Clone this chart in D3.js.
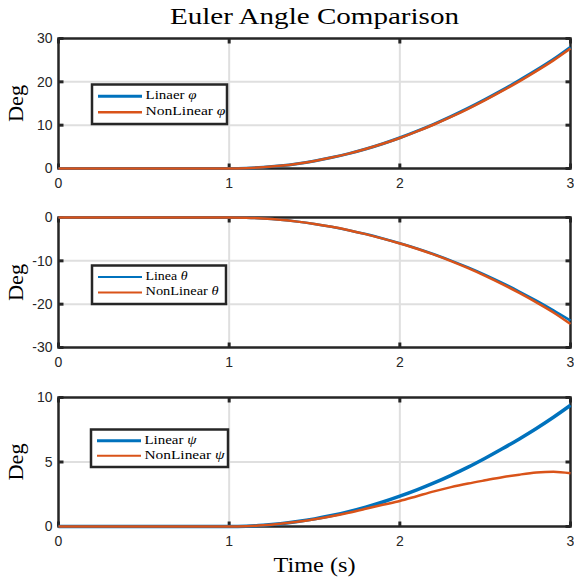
<!DOCTYPE html>
<html lang="en">
	<head>
		<meta charset="utf-8">
		<title>Euler Angle Comparison</title>
		<script src="https://d3js.org/d3.v7.min.js"></script>
		<style type="text/css">
            body {
                margin: 0;
                background: white;
            }
            .tick-label {
                font-family: "Liberation Sans", Arial, sans-serif;
                font-size: 14px;
                fill: #262626;
            }
            .serif {
                font-family: "Liberation Serif", "Times New Roman", serif;
                fill: #000;
            }
		</style>
	</head>
	<body>
        <div id="chart"></div>

        <script type="text/javascript">
            const width = 574;
            const height = 578;

            // time samples (s)
            const time = [0, 0.5, 1.0, 1.1, 1.2, 1.3, 1.4, 1.5, 1.6, 1.7, 1.8, 1.9, 2.0,
                          2.1, 2.2, 2.3, 2.4, 2.5, 2.6, 2.7, 2.8, 2.9, 3.0];

            // roll
            const phiLinear    = [0, 0, 0, 0.07, 0.28, 0.63, 1.12, 1.75, 2.52, 3.43, 4.5, 5.72, 7.1,
                                  8.62, 10.25, 12.02, 13.92, 15.95, 18.08, 20.35, 22.7, 25.2, 28.0];
            const phiNonLinear = [0, 0, 0, 0.07, 0.28, 0.63, 1.12, 1.75, 2.52, 3.43, 4.5, 5.7, 7.05,
                                  8.55, 10.15, 11.9, 13.78, 15.78, 17.9, 20.12, 22.47, 24.95, 27.7];

            // pitch
            const thetaLinear    = [0, 0, 0, -0.05, -0.22, -0.52, -0.95, -1.5, -2.15, -2.92, -3.82, -4.85, -5.95,
                                    -7.15, -8.48, -9.94, -11.53, -13.25, -15.1, -17.08, -19.19, -21.43, -23.8];
            const thetaNonLinear = [0, 0, 0, -0.05, -0.22, -0.52, -0.95, -1.5, -2.15, -2.93, -3.84, -4.88, -6.0,
                                    -7.2, -8.56, -10.05, -11.68, -13.45, -15.36, -17.41, -19.6, -21.93, -24.6];

            // yaw
            const psiLinear    = [0, 0, 0, 0.02, 0.09, 0.21, 0.38, 0.59, 0.85, 1.15, 1.5, 1.9, 2.35,
                                  2.84, 3.38, 3.97, 4.6, 5.29, 6.02, 6.79, 7.6, 8.47, 9.4];
            const psiNonLinear = [0, 0, 0, 0.02, 0.09, 0.21, 0.37, 0.57, 0.8, 1.07, 1.37, 1.68, 1.98,
                                  2.35, 2.72, 3.05, 3.33, 3.58, 3.82, 4.02, 4.18, 4.24, 4.12];

            const xTicks = [0, 1, 2, 3];
            const yTicksPhi = [0, 10, 20, 30];
            const yTicksTheta = [-30, -20, -10, 0];
            const yTicksPsi = [0, 5, 10];

            const legendPhi = ["Linaer ", "NonLinear "];
            const legendTheta = ["Linea ", "NonLinear "];
            const legendPsi = ["Linear ", "NonLinear "];

            const blue = "#0072BD";
            const orange = "#D95319";
            const axisColor = "#262626";

            const left = 58.5, right = 570.5;

            const panels = [
                {top: 38.5, bottom: 168.5, domain: [0, 30], ticks: yTicksPhi,
                 series: [phiLinear, phiNonLinear], widths: [3, 2.5],
                 legend: legendPhi, symbol: "\u03C6", legendBox: [92, 84.5, 135, 39.5],
                 legendWidths: [3, 2.5], textLen: [51, 80]},
                {top: 217.5, bottom: 347.5, domain: [-30, 0], ticks: yTicksTheta,
                 series: [thetaLinear, thetaNonLinear], widths: [2.5, 2.5],
                 legend: legendTheta, symbol: "\u03B8", legendBox: [92, 265.5, 134, 38.5],
                 legendWidths: [2, 2], textLen: [42, 73]},
                {top: 397.5, bottom: 526.5, domain: [0, 10], ticks: yTicksPsi,
                 series: [psiLinear, psiNonLinear], widths: [3.5, 2.5],
                 legend: legendPsi, symbol: "\u03C8", legendBox: [91, 429.5, 137, 37.5],
                 legendWidths: [3, 2], textLen: [52, 80]}
            ];

            const svg = d3.select("#chart")
                .append("svg")
                .attr("width", width)
                .attr("height", height);

            const xScale = d3.scaleLinear()
                .domain([0, 3])
                .range([left, right]);

            panels.forEach(function(p) {
                const yScale = d3.scaleLinear()
                    .domain(p.domain)
                    .range([p.bottom, p.top]);

                const g = svg.append("g");

                // grid
                g.selectAll(".xgrid")
                    .data(xTicks.slice(1, -1))
                    .enter()
                    .append("line")
                        .attr("x1", d => xScale(d))
                        .attr("x2", d => xScale(d))
                        .attr("y1", p.top)
                        .attr("y2", p.bottom)
                        .attr("stroke", "#dfdfdf")
                        .attr("stroke-width", 2);

                g.selectAll(".ygrid")
                    .data(p.ticks.slice(1, -1))
                    .enter()
                    .append("line")
                        .attr("x1", left)
                        .attr("x2", right)
                        .attr("y1", d => yScale(d))
                        .attr("y2", d => yScale(d))
                        .attr("stroke", "#dfdfdf")
                        .attr("stroke-width", 2);

                // box
                g.append("rect")
                    .attr("x", left)
                    .attr("y", p.top)
                    .attr("width", right - left)
                    .attr("height", p.bottom - p.top)
                    .attr("fill", "none")
                    .attr("stroke", axisColor)
                    .attr("stroke-width", 2.5);

                // inward ticks, all four sides
                const tickLen = 5;
                xTicks.forEach(function(t) {
                    g.append("line")
                        .attr("x1", xScale(t)).attr("x2", xScale(t))
                        .attr("y1", p.bottom).attr("y2", p.bottom - tickLen)
                        .attr("stroke", axisColor).attr("stroke-width", 3);
                    g.append("line")
                        .attr("x1", xScale(t)).attr("x2", xScale(t))
                        .attr("y1", p.top).attr("y2", p.top + tickLen)
                        .attr("stroke", axisColor).attr("stroke-width", 3);
                });
                p.ticks.forEach(function(t) {
                    g.append("line")
                        .attr("x1", left).attr("x2", left + tickLen)
                        .attr("y1", yScale(t)).attr("y2", yScale(t))
                        .attr("stroke", axisColor).attr("stroke-width", 3);
                    g.append("line")
                        .attr("x1", right).attr("x2", right - tickLen)
                        .attr("y1", yScale(t)).attr("y2", yScale(t))
                        .attr("stroke", axisColor).attr("stroke-width", 3);
                });

                // tick labels
                g.selectAll(".xlab")
                    .data(xTicks)
                    .enter()
                    .append("text")
                        .attr("class", "tick-label")
                        .attr("x", d => xScale(d))
                        .attr("y", p.bottom + 16)
                        .attr("text-anchor", "middle")
                        .attr("dominant-baseline", "middle")
                        .text(d => d);

                g.selectAll(".ylab")
                    .data(p.ticks)
                    .enter()
                    .append("text")
                        .attr("class", "tick-label")
                        .attr("x", left - 6)
                        .attr("y", d => yScale(d) + 1)
                        .attr("text-anchor", "end")
                        .attr("dominant-baseline", "middle")
                        .text(d => d);

                // y label
                g.append("text")
                    .attr("class", "serif")
                    .attr("transform", "translate(23," + ((p.top + p.bottom) / 2) + ") rotate(-90)")
                    .attr("text-anchor", "middle")
                    .attr("font-size", 21)
                    .attr("textLength", 37)
                    .attr("lengthAdjust", "spacingAndGlyphs")
                    .text("Deg");

                // data lines
                const line = d3.line()
                    .x((d, i) => xScale(time[i]))
                    .y(d => yScale(d))
                    .curve(d3.curveMonotoneX);

                p.series.forEach(function(s, k) {
                    g.append("path")
                        .datum(s)
                        .attr("fill", "none")
                        .attr("stroke", k === 0 ? blue : orange)
                        .attr("stroke-width", p.widths[k])
                        .attr("d", line);
                });

                // legend
                const [lx, ly, lw, lh] = p.legendBox;
                const lg = g.append("g");
                lg.append("rect")
                    .attr("x", lx).attr("y", ly)
                    .attr("width", lw).attr("height", lh)
                    .attr("fill", "white")
                    .attr("stroke", axisColor)
                    .attr("stroke-width", 2.5);

                p.legend.forEach(function(name, k) {
                    const rowY = ly + lh * (k === 0 ? 0.3 : 0.7);
                    lg.append("line")
                        .attr("x1", lx + 6).attr("x2", lx + 50)
                        .attr("y1", rowY).attr("y2", rowY)
                        .attr("stroke", k === 0 ? blue : orange)
                        .attr("stroke-width", p.legendWidths[k]);
                    const txt = lg.append("text")
                        .attr("class", "serif")
                        .attr("x", lx + 53.5)
                        .attr("y", rowY)
                        .attr("dominant-baseline", "middle")
                        .attr("font-size", 13.5)
                        .attr("textLength", p.textLen[k])
                        .attr("lengthAdjust", "spacingAndGlyphs");
                    txt.append("tspan").text(name);
                    txt.append("tspan").attr("font-style", "italic").text(p.symbol);
                });
            });

            // title
            svg.append("text")
                .attr("class", "serif")
                .attr("x", (left + right) / 2)
                .attr("y", 24)
                .attr("text-anchor", "middle")
                .attr("font-size", 24)
                .attr("textLength", 289)
                .attr("lengthAdjust", "spacingAndGlyphs")
                .text("Euler Angle Comparison");

            // x label
            svg.append("text")
                .attr("class", "serif")
                .attr("x", (left + right) / 2)
                .attr("y", 572)
                .attr("text-anchor", "middle")
                .attr("font-size", 21)
                .attr("textLength", 82)
                .attr("lengthAdjust", "spacingAndGlyphs")
                .text("Time (s)");
        </script>
	</body>
</html>
